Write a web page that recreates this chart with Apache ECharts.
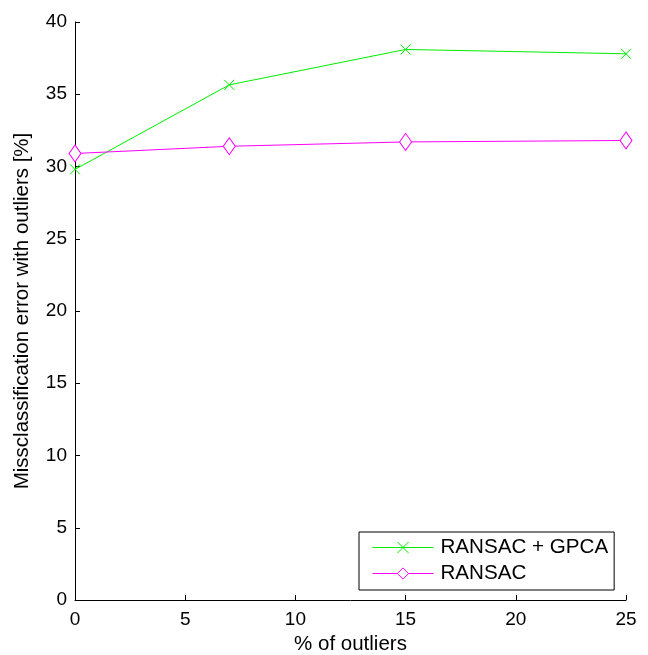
<!DOCTYPE html>
<html>
<head>
<meta charset="utf-8">
<script src="https://cdn.jsdelivr.net/npm/echarts@6/dist/echarts.min.js"></script>
<style>
  html, body { margin: 0; padding: 0; background: #fff; }
  #chart { width: 648px; height: 655px; }
</style>
</head>
<body>
<div id="chart"></div>
<script>
// values
const outliers = [0, 7, 15, 25];
const ransacGpca = [29.8, 35.65, 38.1, 37.8];
const ransac = [30.9, 31.4, 31.7, 31.8];

const font = "'Liberation Sans', Arial, sans-serif";
const chart = echarts.init(document.getElementById("chart"));

const pairs = (xs, ys) => xs.map((x, i) => [x, ys[i]]);

const axisCommon = {
  axisLine: { show: true, lineStyle: { color: "#000", width: 1 } },
  axisTick: { show: true, inside: true, length: 5, lineStyle: { color: "#000" } },
  axisLabel: { color: "#000", fontSize: 19, fontFamily: font },
  splitLine: { show: false },
  nameLocation: "middle",
  nameTextStyle: { color: "#000", fontSize: 20.5, fontFamily: font },
};

const option = {
  animation: false,
  backgroundColor: "#fff",
  grid: { left: 75, right: 22, top: 22, bottom: 55, outerBoundsMode: "none", containLabel: false },
  xAxis: {
    ...axisCommon,
    type: "value",
    min: 0,
    max: 25,
    interval: 5,
    name: "% of outliers",
    nameGap: 34,
    axisLabel: { ...axisCommon.axisLabel, margin: 10 },
  },
  yAxis: {
    ...axisCommon,
    type: "value",
    min: 0,
    max: 40,
    interval: 5,
    name: "Missclassification error with outliers [%]",
    nameGap: 42,
    axisLabel: { ...axisCommon.axisLabel, margin: 8 },
  },
  legend: {
    left: 359,
    top: 532,
    orient: "vertical",
    backgroundColor: "#fff",
    borderColor: "#000",
    borderWidth: 1,
    borderRadius: 0,
    padding: [5, 6, 6, 13],
    itemGap: 5,
    itemWidth: 61,
    itemHeight: 14,
    lineStyle: { width: 1 },
    itemStyle: { borderWidth: 1 },
    textStyle: { color: "#000", fontSize: 20.6, fontFamily: font, padding: [0, 0, 0, 2] },
    data: ["RANSAC + GPCA", "RANSAC"],
  },
  series: [
    {
      name: "RANSAC + GPCA",
      type: "line",
      data: pairs(outliers, ransacGpca),
      symbol: "path://M0,0L10,10M10,0L0,10",
      symbolSize: 10,
      color: "#00ff00",
      lineStyle: { color: "#00ee00", width: 1 },
      itemStyle: { color: "none", borderColor: "#00ee00", borderWidth: 1 },
    },
    {
      name: "RANSAC",
      type: "line",
      data: pairs(outliers, ransac),
      symbol: "diamond",
      symbolSize: [12, 17],
      color: "#ff00ff",
      lineStyle: { color: "#ff00ff", width: 1 },
      itemStyle: { color: "#fff", borderColor: "#ff00ff", borderWidth: 1 },
    },
  ],
};

chart.setOption(option);
</script>
</body>
</html>
